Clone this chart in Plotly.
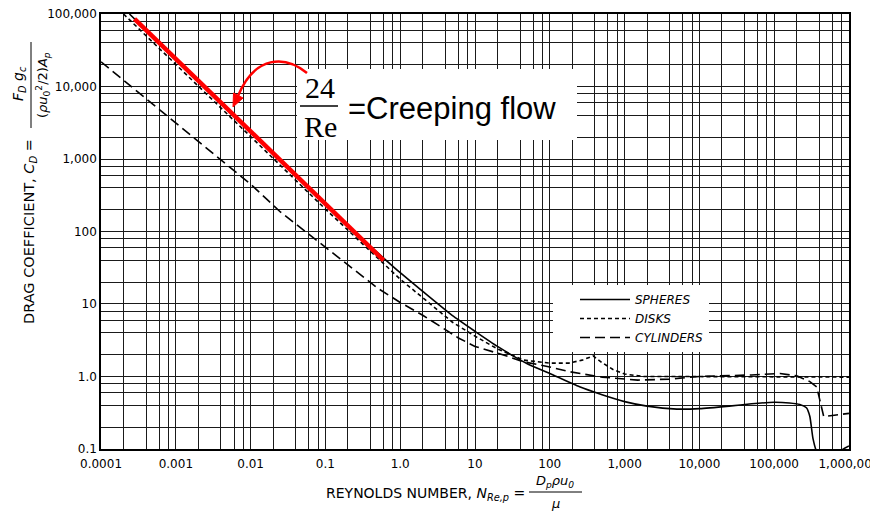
import plotly.graph_objects as go

# ---------------- data ----------------
spheres_re = [2.4e-4, 1e-3, 1e-2, 0.1, 0.3, 0.6, 1, 2, 5, 10, 20, 50, 100, 250, 500,
              1000, 2000, 5000, 1e4, 2.5e4, 5e4, 1e5, 1.6e5, 2.2e5, 2.7e5, 3e5, 3.3e5,
              3.7e5, 4.2e5, 5e5, 6e5, 8e5, 1e6]
spheres_cd = [100000, 24000, 2400, 240, 82, 43, 27, 14.9, 6.9, 4.2, 2.6, 1.5, 1.1, 0.72, 0.56,
              0.45, 0.39, 0.355, 0.36, 0.39, 0.42, 0.44, 0.43, 0.41, 0.37, 0.28, 0.14,
              0.092, 0.078, 0.076, 0.08, 0.097, 0.11]

disks_re = [2e-4, 1e-3, 1e-2, 0.1, 1, 5, 10, 20, 45, 100, 180, 270, 380, 500, 700,
            1000, 1800, 5000, 1e4, 1e5, 1e6]
disks_cd = [100000, 20400, 2040, 204, 22, 5.6, 3.6, 2.4, 1.68, 1.53, 1.53, 1.68, 1.92, 1.55, 1.25,
            1.08, 1.0, 1.0, 1.0, 1.0, 0.98]

cyl_re = [1e-4, 1e-3, 1e-2, 0.025, 0.1, 0.5, 1, 2, 6, 10, 24, 44, 100, 186, 500, 1500,
          4000, 1e4, 5e4, 1.2e5, 2e5, 3e5, 3.7e5, 4.2e5, 4.6e5, 6e5, 1e6]
cyl_cd = [21900, 3140, 450, 186, 61, 16.5, 10.5, 7.0, 3.4, 2.6, 1.98, 1.6, 1.35, 1.16, 0.98, 0.89,
          0.92, 1.0, 1.05, 1.1, 1.02, 0.85, 0.72, 0.43, 0.28, 0.29, 0.31]

creeping_re = [2.8e-4, 0.6]
creeping_cd = [85700, 40]

x_tickvals = [1e-4, 1e-3, 1e-2, 0.1, 1, 10, 100, 1e3, 1e4, 1e5, 1e6]
x_ticktext = ["0.0001", "0.001", "0.01", "0.1", "1.0", "10", "100", "1,000", "10,000",
              "100,000", "1,000,000"]
y_tickvals = [0.1, 1, 10, 100, 1e3, 1e4, 1e5]
y_ticktext = ["0.1", "1.0", "10", "100", "1,000", "10,000", "100,000"]

series_names = ["<i>SPHERES</i>", "<i>DISKS</i>", "<i>CYLINDERS</i>"]

# ---------------- layout helpers ----------------
L, R, T, B = 101, 21, 14, 62
W, H = 870, 511
PW, PH = W - L - R, H - T - B


def px(x):
    return (x - L) / PW


def py(y):
    return (T + PH - y) / PH


FONT = "DejaVu Sans"
GRID = "#1a1a1a"
EPS = 0.0005

minor_x = [m * 10 ** d for d in range(-4, 6) for m in (2, 4, 6, 8)]
minor_y = [m * 10 ** d for d in range(-1, 5) for m in (2, 4, 6, 8)]

fig = go.Figure()
fig.add_trace(go.Scatter(x=spheres_re, y=spheres_cd, mode="lines", name=series_names[0],
                         line=dict(color="black", width=1.6, shape="spline", smoothing=0.5)))
fig.add_trace(go.Scatter(x=disks_re, y=disks_cd, mode="lines", name=series_names[1],
                         line=dict(color="black", width=1.6, dash="4px,3px")))
fig.add_trace(go.Scatter(x=cyl_re, y=cyl_cd, mode="lines", name=series_names[2],
                         line=dict(color="black", width=1.6, dash="10px,5px")))
fig.add_trace(go.Scatter(x=creeping_re, y=creeping_cd, mode="lines", showlegend=False,
                         line=dict(color="#ff0000", width=4.5)))

axis_common = dict(type="log", showline=True, linecolor="black", linewidth=1.5, mirror=True,
                   showgrid=True, gridcolor=GRID, gridwidth=1.2, ticks="", zeroline=False,
                   automargin=False, ticklabeloverflow="allow",
                   tickfont=dict(family=FONT, size=12, color="black"))

fig.update_layout(
    width=W, height=H,
    margin=dict(l=L, r=R, t=T, b=B),
    paper_bgcolor="white", plot_bgcolor="white",
    font=dict(family=FONT, color="black"),
    xaxis=dict(range=[-4 - EPS, 6 + EPS], tickvals=x_tickvals, ticktext=x_ticktext,
               ticklabelstandoff=3,
               minor=dict(tickvals=minor_x, showgrid=True, gridcolor=GRID, gridwidth=1),
               **axis_common),
    yaxis=dict(range=[-1 - EPS, 5 + EPS], tickvals=y_tickvals, ticktext=y_ticktext,
               minor=dict(tickvals=minor_y, showgrid=True, gridcolor=GRID, gridwidth=1),
               **axis_common),
    legend=dict(x=px(553), y=py(285), xanchor="left", yanchor="top", bgcolor="white",
                borderwidth=0, font=dict(family=FONT, size=12, color="black"),
                itemwidth=50, indentation=22, entrywidth=170, tracegroupgap=0),
    showlegend=True,
)

shapes = []
# white box behind the creeping-flow note
shapes.append(dict(type="rect", xref="paper", yref="paper", x0=px(297), x1=px(577),
                   y0=py(140), y1=py(69), fillcolor="white", line=dict(width=0), layer="above"))
# fraction bar of 24/Re
shapes.append(dict(type="line", xref="paper", yref="paper", x0=px(300), x1=px(338),
                   y0=py(106), y1=py(106), line=dict(color="black", width=1.5), layer="above"))
# red curved arrow
shapes.append(dict(type="path", xref="paper", yref="paper", layer="above",
                   path=f"M {px(307)},{py(73)} C {px(285)},{py(55)} {px(255)},{py(55)} {px(238)},{py(96)}",
                   line=dict(color="#ff0000", width=2.5)))
shapes.append(dict(type="path", xref="paper", yref="paper", layer="above",
                   path=f"M {px(233)},{py(107)} L {px(243)},{py(98)} L {px(233.5)},{py(93)} Z",
                   fillcolor="#ff0000", line=dict(color="#ff0000", width=1)))
# fraction bars in axis titles
shapes.append(dict(type="line", xref="paper", yref="paper", x0=px(31), x1=px(31),
                   y0=py(128), y1=py(42), line=dict(color="black", width=1)))
shapes.append(dict(type="line", xref="paper", yref="paper", x0=px(529), x1=px(582),
                   y0=py(492), y1=py(492), line=dict(color="black", width=1)))
fig.update_layout(shapes=shapes)


def note(text, x, y, size, family=FONT, angle=0, xanchor="center", yanchor="middle"):
    return dict(text=text, x=px(x), y=py(y), xref="paper", yref="paper", showarrow=False,
                xanchor=xanchor, yanchor=yanchor, textangle=angle,
                font=dict(family=family, size=size, color="black"))


ann = [
    note("24", 320, 88, 30, "Liberation Serif"),
    note("Re", 320, 126, 30, "Liberation Serif"),
    note("=Creeping flow", 346, 108, 31, "Liberation Sans", xanchor="left"),
    # y-axis title
    note("DRAG COEFFICIENT, <i>C<sub>D</sub></i> =", 30, 232, 14.5, angle=-90),
    note("<i>F<sub>D</sub> g<sub>c</sub></i>", 19, 84, 14, angle=-90),
    note("(<i>ρu</i><sub>0</sub><sup>2</sup>/2)<i>A<sub>p</sub></i>", 43, 85, 13, angle=-90),
    # x-axis title
    note("REYNOLDS NUMBER, <i>N<sub>Re,p</sub></i> =", 527, 494, 14, xanchor="right"),
    note("<i>D<sub>p</sub>ρu<sub>0</sub></i>", 555, 482, 13),
    note("<i>μ</i>", 555, 503, 13),
]
fig.update_layout(annotations=ann)

fig.write_html("out.html")
